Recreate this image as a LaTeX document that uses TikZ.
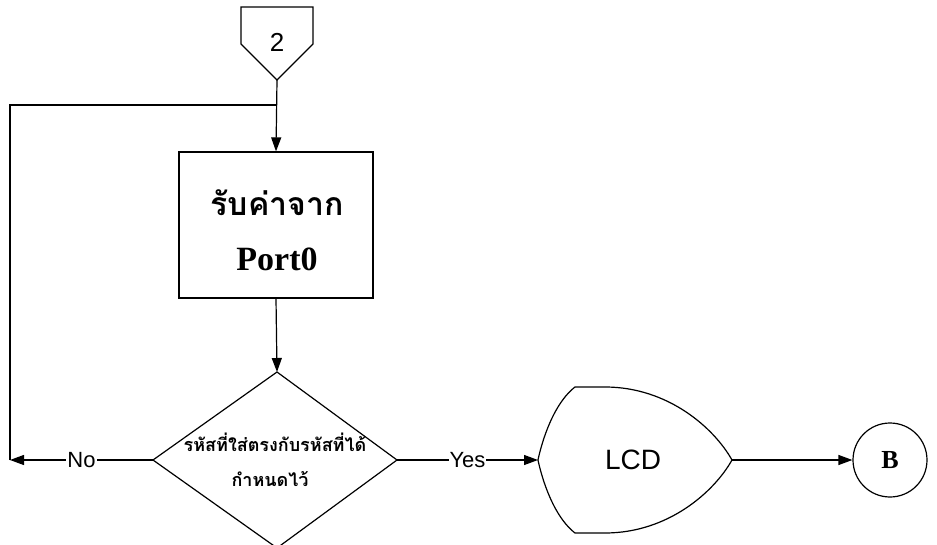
\documentclass[tikz,border=0pt]{standalone}
\usepackage{fontspec}
\setmainfont{Liberation Serif}
\setsansfont{Liberation Sans}
\newfontfamily\thaifont[Script=Thai]{Loma}
\usetikzlibrary{arrows.meta, positioning, shapes.geometric}

\begin{document}
\begin{tikzpicture}[x=1pt, y=-1pt, line width=1.2pt,
  flow/.style={-{Triangle[length=14pt,width=10pt]}},
  procbox/.style={draw, rectangle, minimum width=194pt, minimum height=146pt},
  endcircle/.style={draw, circle, minimum size=74pt, inner sep=0pt, font=\fontsize{26}{28}\selectfont\bfseries},
  branch/.style={midway, fill=white, inner sep=1pt, font=\sffamily\fontsize{22}{24}\selectfont},
  thaibig/.style={font=\thaifont\bfseries\fontsize{32}{34}\selectfont},
  thaismall/.style={font=\thaifont\bfseries\fontsize{18}{20}\selectfont}
  ]
  \useasboundingbox (0,0) rectangle (937,545);

  % Off-page connector "2"
  \draw (241,7) -- (313,7) -- (313,44) -- (277,80) -- (241,44) -- cycle;
  \node[font=\sffamily\fontsize{26}{28}\selectfont] (pagetwo) at (277,42) {2};
  \coordinate (conntip) at (277,80);
  \coordinate (join) at (277,105);
  \coordinate (loopcorner) at (10,460);

  % Read input block
  \node[procbox] (recv) at (276,225) {};
  \node[thaibig] (recvthai) at (277,203) {รับค่าจาก};
  \node[font=\bfseries\fontsize{34}{36}\selectfont] (recvport) at (277,259) {Port0};

  % Decision diamond
  \coordinate (dtop) at (277,372);
  \coordinate (dleft) at (153,460);
  \coordinate (dright) at (397,460);
  \coordinate (dbottom) at (277,548);
  \draw (dtop) -- (dright) -- (dbottom) -- (dleft) -- cycle;
  \node[thaismall] (checka) at (275,442) {รหัสที่ใส่ตรงกับรหัสที่ได้};
  \node[thaismall] (checkb) at (270,479) {กำหนดไว้};

  % Display (LCD)
  \coordinate (lcdin) at (538,460);
  \coordinate (lcdout) at (732,460);
  \draw (575,387) -- (605,387)
        .. controls (668,387) and (714,428) .. (lcdout)
        .. controls (714,492) and (668,533) .. (605,533)
        -- (575,533)
        .. controls (548,512) and (lcdin) .. (lcdin)
        .. controls (lcdin) and (548,408) .. (575,387) -- cycle;
  \node[font=\sffamily\fontsize{28}{30}\selectfont] (lcd) at (633,460) {LCD};

  % Connector B
  \node[endcircle] (conb) at (890,460) {B};

  % Connections
  \draw[flow] (conntip) -- (recv.north);
  \draw[flow] (recv.south) -- (dtop);
  \draw[flow] (dleft) -- node[branch] {No} (loopcorner);
  \draw (loopcorner) |- (join);
  \draw[flow] (dright) -- node[branch] {Yes} (lcdin);
  \draw[flow] (lcdout) -- (conb);

\end{tikzpicture}
\end{document}
